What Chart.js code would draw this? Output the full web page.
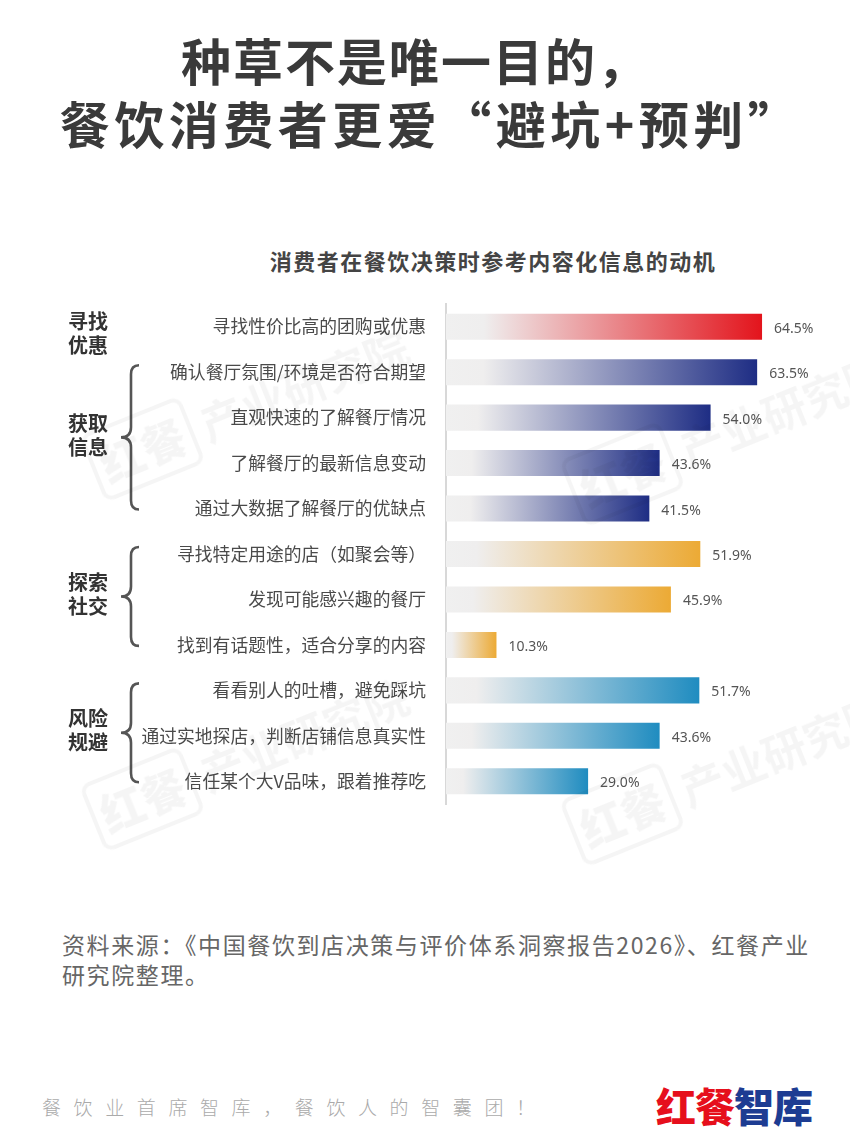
<!doctype html>
<html lang="zh">
<head>
    <meta charset="utf-8">
    <title>消费者在餐饮决策时参考内容化信息的动机</title>
    <script src="https://cdn.jsdelivr.net/npm/chart.js"></script>
    <style>
        body { margin: 0; background: #fff; font-family: "Noto Sans CJK SC", "Noto Sans", sans-serif; }
        .page { position: relative; width: 850px; height: 1133px; overflow: hidden; background: #fff; }
        .title { position: absolute; left: 0; width: 830px; text-align: center; font-size: 50px; font-weight: bold;
                 color: #3a3a3a; letter-spacing: 2px; line-height: 62px; }
        .subtitle { position: absolute; left: 0; width: 986px; top: 246px; text-align: center; font-size: 22px;
                    font-weight: bold; color: #444; letter-spacing: 1.5px; line-height: 28px; }
        .chartbox { position: absolute; left: 0; top: 300px; width: 850px; height: 510px; }
        .source { position: absolute; left: 62px; top: 929px; font-size: 23px; color: #666; line-height: 30px;
                  letter-spacing: 1.6px; }
        .slogan { position: absolute; left: 42px; top: 1093px; font-size: 19px; color: #aaa; letter-spacing: 12.6px;
                  font-weight: 300; }
        .logo { position: absolute; left: 656px; top: 1076px; font-size: 40px; font-weight: 900; letter-spacing: -1px; }
        .wm { position: absolute; font-size: 44px; font-weight: bold; color: rgba(0,0,0,0.04); white-space: nowrap;
              transform: rotate(-22deg); pointer-events: none; }
        .wm b { display: inline-block; border: 4px solid rgba(0,0,0,0.04); border-radius: 10px; padding: 0 6px; margin-right: 10px; }
    </style>
</head>
<body>
<div class="page">
    <div class="title" style="top: 28px;">种草不是唯一目的，</div>
    <div class="title" style="top: 91px; width: 862px; letter-spacing: 4.5px;">餐饮消费者更爱“避坑+预判”</div>
    <div class="subtitle">消费者在餐饮决策时参考内容化信息的动机</div>
    <div class="chartbox"><canvas id="motives"></canvas></div>
    <div class="wm" style="left: 80px; top: 370px;"><b>红餐</b>产业研究院</div>
    <div class="wm" style="left: 560px; top: 395px;"><b>红餐</b>产业研究院</div>
    <div class="wm" style="left: 80px; top: 720px;"><b>红餐</b>产业研究院</div>
    <div class="wm" style="left: 560px; top: 735px;"><b>红餐</b>产业研究院</div>
    <div class="source">资料来源：《中国餐饮到店决策与评价体系洞察报告2026》、红餐产业<br/>研究院整理。</div>
    <div class="slogan">餐饮业首席智库，餐饮人的智囊团！</div>
    <div class="logo"><span style="color:#e60f1c;">红餐</span><span style="color:#1d3c92;">智库</span></div>
</div>
<script>
    // categories, top to bottom
    var labels = [
        '寻找性价比高的团购或优惠',
        '确认餐厅氛围/环境是否符合期望',
        '直观快速的了解餐厅情况',
        '了解餐厅的最新信息变动',
        '通过大数据了解餐厅的优缺点',
        '寻找特定用途的店（如聚会等）',
        '发现可能感兴趣的餐厅',
        '找到有话题性，适合分享的内容',
        '看看别人的吐槽，避免踩坑',
        '通过实地探店，判断店铺信息真实性',
        '信任某个大V品味，跟着推荐吃'
    ];
    var values = [64.5, 63.5, 54.0, 43.6, 41.5, 51.9, 45.9, 10.3, 51.7, 43.6, 29.0];
    var barColors = ['#e3141c', '#1e2d84', '#1e2d84', '#1e2d84', '#1e2d84',
        '#ecaa35', '#ecaa35', '#ecaa35', '#1f8cc0', '#1f8cc0', '#1f8cc0'];

    // motive groups: two-line label, first and last row
    var groupNames = [['寻找', '优惠'], ['获取', '信息'], ['探索', '社交'], ['风险', '规避']];
    var groupStart = [0, 1, 5, 8];
    var groupEnd = [0, 4, 7, 10];

    var valueLabels = {
        id: 'valueLabels',
        afterDatasetsDraw: function (chart) {
            var ctx = chart.ctx;
            var meta = chart.getDatasetMeta(0);
            ctx.save();
            ctx.font = '14px "Noto Sans", "Noto Sans CJK SC", sans-serif';
            ctx.fillStyle = '#555';
            ctx.textAlign = 'left';
            ctx.textBaseline = 'middle';
            meta.data.forEach(function (bar, i) {
                ctx.fillText(values[i].toFixed(1) + '%', bar.x + 12, bar.y + 2);
            });
            ctx.restore();
        }
    };

    var groupBraces = {
        id: 'groupBraces',
        afterDraw: function (chart) {
            var ctx = chart.ctx;
            var y = chart.scales.y;
            ctx.save();
            for (var g = 0; g < groupNames.length; g++) {
                var c1 = y.getPixelForValue(groupStart[g]);
                var c2 = y.getPixelForValue(groupEnd[g]);
                var mid;
                if (groupStart[g] !== groupEnd[g]) {
                    var top = c1 - 7, bot = c2 + 1;
                    mid = (top + bot) / 2;
                    var xTip = 121, xLine = 131, xEnd = 139;
                    ctx.beginPath();
                    ctx.moveTo(xEnd, top);
                    ctx.quadraticCurveTo(xLine, top, xLine, top + 9);
                    ctx.lineTo(xLine, mid - 10);
                    ctx.quadraticCurveTo(xLine, mid, xTip, mid);
                    ctx.quadraticCurveTo(xLine, mid, xLine, mid + 10);
                    ctx.lineTo(xLine, bot - 9);
                    ctx.quadraticCurveTo(xLine, bot, xEnd, bot);
                    ctx.strokeStyle = '#555';
                    ctx.lineWidth = 2.6;
                    ctx.stroke();
                    mid -= 2;
                } else {
                    mid = c1 + 7;
                }
                ctx.font = 'bold 20px "Noto Sans CJK SC", sans-serif';
                ctx.fillStyle = '#333';
                ctx.textAlign = 'center';
                ctx.textBaseline = 'middle';
                ctx.fillText(groupNames[g][0], 88, mid - 12);
                ctx.fillText(groupNames[g][1], 88, mid + 12);
            }
            ctx.restore();
        }
    };

    var ctxm = document.getElementById('motives');
    var motivesChart = new Chart(ctxm, {
        type: 'bar',
        data: {
            labels: labels,
            datasets: [{
                data: values,
                backgroundColor: function (context) {
                    var chart = context.chart;
                    var area = chart.chartArea;
                    var color = barColors[context.dataIndex];
                    if (!area) {
                        return color;
                    }
                    var xEnd = chart.scales.x.getPixelForValue(values[context.dataIndex]);
                    var grad = chart.ctx.createLinearGradient(area.left, 0, xEnd, 0);
                    grad.addColorStop(0, '#f0f0f0');
                    grad.addColorStop(0.12, '#efeeee');
                    grad.addColorStop(1, color);
                    return grad;
                },
                borderWidth: 0,
                categoryPercentage: 1,
                barPercentage: 0.573
            }]
        },
        options: {
            indexAxis: 'y',
            responsive: true,
            maintainAspectRatio: false,
            animation: false,
            layout: {
                padding: {top: 4, bottom: 6, left: 0, right: 12}
            },
            scales: {
                x: {
                    display: false,
                    min: 0,
                    max: 80
                },
                y: {
                    afterFit: function (scale) {
                        scale.width = 446;
                        scale.paddingTop = 0;
                        scale.paddingBottom = 0;
                    },
                    grid: {display: false, drawTicks: false},
                    border: {display: true, color: '#d8d8d8', width: 2},
                    ticks: {
                        padding: 20,
                        color: '#4a4a4a',
                        font: {size: 17.8, family: '"Noto Sans CJK SC", sans-serif'}
                    }
                }
            },
            plugins: {
                legend: {display: false},
                tooltip: {enabled: false}
            }
        },
        plugins: [valueLabels, groupBraces]
    });
</script>
</body>
</html>
